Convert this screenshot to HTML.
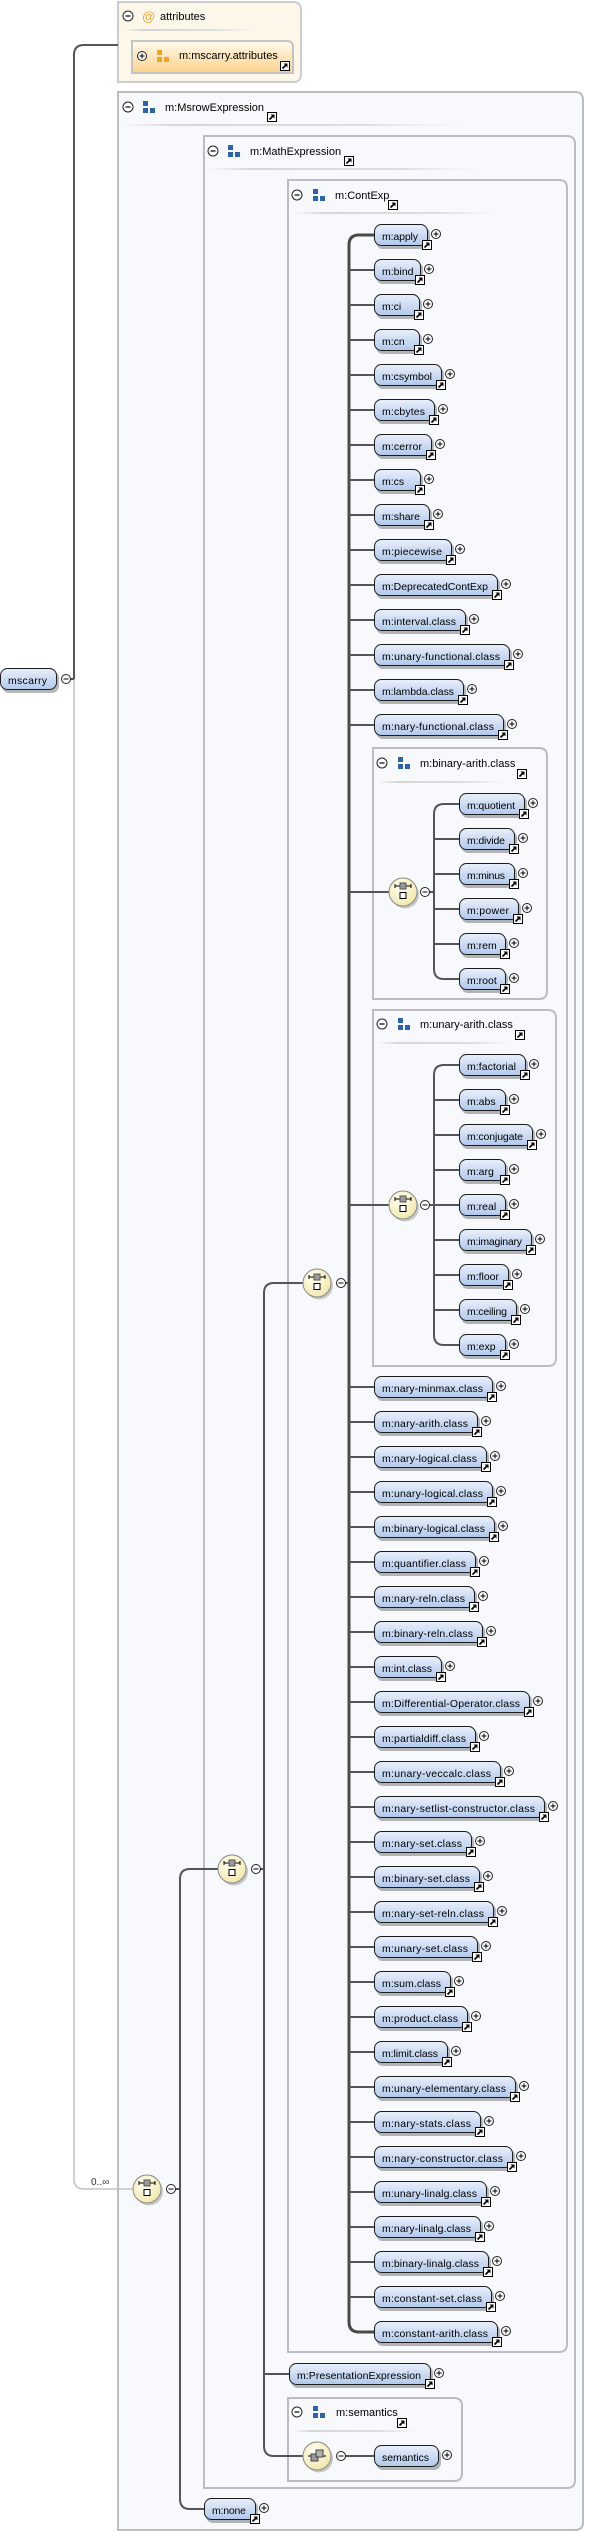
<!DOCTYPE html>
<html>
<head>
<meta charset="utf-8">
<style>
html,body{margin:0;padding:0;background:#fff;}
svg{display:block;}
text{font-family:"Liberation Sans",Arial,sans-serif;fill:#000;}
.t{font-size:10.5px;}
.h{font-size:11px;}
.s{fill:#000;opacity:.28;}
.n{fill:url(#ng);stroke:#1c1c1c;stroke-width:1;}
.bx{fill:#f7f9fd;stroke:#bdbdbd;stroke-width:2;}
.cn{fill:none;stroke:#555;stroke-width:2;}
</style>
</head>
<body>
<svg width="601" height="2532" viewBox="0 0 601 2532" xmlns="http://www.w3.org/2000/svg">
<defs>
<linearGradient id="ng" x1="0" y1="0" x2="0" y2="1"><stop offset="0" stop-color="#e9f0fb"/><stop offset="1" stop-color="#b1c8ec"/></linearGradient>
<linearGradient id="og" x1="0" y1="0" x2="0" y2="1"><stop offset="0" stop-color="#fff9ee"/><stop offset="1" stop-color="#fbd38a"/></linearGradient>
<linearGradient id="sg" x1="0" y1="0" x2="1" y2="0"><stop offset="0" stop-color="#d8d8d8" stop-opacity="0"/><stop offset=".15" stop-color="#d6d6d6"/><stop offset=".7" stop-color="#dedede"/><stop offset="1" stop-color="#e8e8e8" stop-opacity="0"/></linearGradient>
<radialGradient id="cg" cx=".4" cy=".35" r=".7"><stop offset="0" stop-color="#fffef2"/><stop offset="1" stop-color="#f1e7a8"/></radialGradient>
<g id="p"><circle r="4.5" fill="#fff" stroke="#222"/><path d="M-2.5 0H2.5M0 -2.5V2.5" stroke="#000" stroke-width="1"/></g>
<g id="m"><circle r="4.5" fill="#fff" stroke="#222"/><path d="M-2.5 0H2.5" stroke="#000" stroke-width="1"/></g>
<g id="hm"><circle r="5" fill="#fff" stroke="#222"/><path d="M-2.5 0H2.5" stroke="#000" stroke-width="1.2"/></g>
<g id="l"><rect x=".5" y=".5" width="9" height="9" fill="#fff" stroke="#000"/><path d="M2.5 7.5L6 4" stroke="#000" stroke-width="1.8"/><path d="M3.5 2.5H7.5V6.5Z" fill="#000"/></g>
<g id="gi" fill="#2b63ad"><rect width="5" height="5"/><rect y="7" width="5" height="5"/><rect x="7" y="7" width="5" height="5"/></g>
<g id="go" fill="#f0a52a"><rect width="5" height="5"/><rect y="7" width="5" height="5"/><rect x="7" y="7" width="5" height="5"/></g>
<g id="co"><circle cx="2" cy="2.5" r="14" fill="#000" opacity=".2"/><circle r="14" fill="url(#cg)" stroke="#8a8a8a"/><path d="M-8 -6H8M-8 -8V-4M8 -8V-4" stroke="#000" stroke-width="1"/><rect x="-3" y="-9" width="6" height="6" fill="#9a9a9a" stroke="#555"/><rect x="-3" y="0.5" width="6" height="6" fill="#fff" stroke="#000"/></g>
<g id="ca"><circle cx="2" cy="2.5" r="14" fill="#000" opacity=".2"/><circle r="14" fill="url(#cg)" stroke="#8a8a8a"/><path d="M-9 0H9" stroke="#000"/><rect x="-6" y="-2" width="7" height="7" fill="#9a9a9a" stroke="#444"/><rect x="-1" y="-6" width="7" height="7" fill="#b0b0b0" stroke="#444"/></g>
</defs>

<!-- attributes box -->
<path d="M118 2H293Q301 2 301 10V74Q301 82 293 82H118Z" fill="#fdf7ea" stroke="#cdcdcd" stroke-width="2"/>
<use href="#hm" x="128" y="16"/>
<text x="142" y="21" style="font-size:13px;fill:#f0a52a">@</text>
<text class="h" x="160" y="20">attributes</text>
<rect x="123" y="29" width="134" height="2" fill="url(#sg)"/>
<path d="M132 41H287Q293 41 293 47V73H132Z" fill="url(#og)" stroke="#c4c4c4" stroke-width="2"/>
<use href="#p" x="142" y="56"/>
<use href="#go" x="157" y="50"/>
<text class="h" x="179" y="59">m:mscarry.attributes</text>
<use href="#l" x="280" y="61"/>

<!-- group boxes -->
<path class="bx" d="M118 92H575Q583 92 583 100V2522Q583 2530 575 2530H118Z"/>
<use href="#hm" x="128" y="107"/><use href="#gi" x="143" y="101"/>
<text class="h" x="165" y="111">m:MsrowExpression</text><use href="#l" x="267" y="112"/>
<rect x="123" y="124" width="345" height="2" fill="url(#sg)"/>

<path class="bx" d="M204 136H567Q575 136 575 144V2480Q575 2488 567 2488H204Z"/>
<use href="#hm" x="213" y="151"/><use href="#gi" x="228" y="145"/>
<text class="h" x="250" y="155">m:MathExpression</text><use href="#l" x="344" y="156"/>
<rect x="209" y="168" width="275" height="2" fill="url(#sg)"/>

<path class="bx" d="M288 180H559Q567 180 567 188V2344Q567 2352 559 2352H288Z"/>
<use href="#hm" x="297" y="195"/><use href="#gi" x="313" y="189"/>
<text class="h" x="335" y="199">m:ContExp</text><use href="#l" x="388" y="200"/>
<rect x="293" y="212" width="207" height="2" fill="url(#sg)"/>

<path class="bx" d="M373 748H539Q547 748 547 756V991Q547 999 539 999H373Z"/>
<use href="#hm" x="382" y="763"/><use href="#gi" x="398" y="757"/>
<text class="h" x="420" y="767">m:binary-arith.class</text><use href="#l" x="517" y="769"/>
<rect x="378" y="781" width="129" height="2" fill="url(#sg)"/>

<path class="bx" d="M373 1010H548Q556 1010 556 1018V1358Q556 1366 548 1366H373Z"/>
<use href="#hm" x="382" y="1024"/><use href="#gi" x="398" y="1018"/>
<text class="h" x="420" y="1028">m:unary-arith.class</text><use href="#l" x="515" y="1030"/>
<rect x="378" y="1042" width="135" height="2" fill="url(#sg)"/>

<path class="bx" d="M288 2398H454Q462 2398 462 2406V2473Q462 2481 454 2481H288Z"/>
<use href="#hm" x="297" y="2412"/><use href="#gi" x="313" y="2406"/>
<text class="h" x="336" y="2416">m:semantics</text><use href="#l" x="397" y="2418"/>
<rect x="293" y="2430" width="126" height="2" fill="url(#sg)"/>

<!-- connectors -->
<path d="M74 679V2179Q74 2189 84 2189H133" fill="none" stroke="#c2c2c2" stroke-width="1.5"/>
<text x="91" y="2185" style="font-size:10px;fill:#333">0..∞</text>
<path class="cn" d="M70 679H74M74 679V55Q74 45 84 45H118"/>
<path class="cn" d="M218 1869H190Q180 1869 180 1879V2499Q180 2509 190 2509H204M175 2189H180"/>
<path class="cn" d="M303 1283H274Q264 1283 264 1293V2446Q264 2456 274 2456H303M264 2374H289M260 1869H264"/>
<path class="cn" d="M345 2456H374"/>
<path d="M374 235H359Q349 235 349 245V2322Q349 2332 359 2332H374" fill="none" stroke="#4a4a4a" stroke-width="3"/>
<path class="cn" d="M345 1283H349M349 270H374M349 305H374M349 340H374M349 375H374M349 410H374M349 445H374M349 480H374M349 515H374M349 550H374M349 585H374M349 620H374M349 655H374M349 690H374M349 725H374M349 892H389M349 1205H389M349 1387H374M349 1422H374M349 1457H374M349 1492H374M349 1527H374M349 1562H374M349 1597H374M349 1632H374M349 1667H374M349 1702H374M349 1737H374M349 1772H374M349 1807H374M349 1842H374M349 1877H374M349 1912H374M349 1947H374M349 1982H374M349 2017H374M349 2052H374M349 2087H374M349 2122H374M349 2157H374M349 2192H374M349 2227H374M349 2262H374M349 2297H374"/>
<path class="cn" d="M459 804H444Q434 804 434 814V969Q434 979 444 979H459M434 839H459M434 874H459M434 909H459M434 944H459M429 892H434"/>
<path class="cn" d="M459 1065H444Q434 1065 434 1075V1335Q434 1345 444 1345H459M434 1100H459M434 1135H459M434 1170H459M434 1205H459M434 1240H459M434 1275H459M434 1310H459M429 1205H434"/>

<!-- root element -->
<g transform="translate(0,668)"><rect x="2" y="3" width="57" height="22" rx="7" class="s"/><rect x=".5" y=".5" width="56" height="21" rx="7" class="n"/><text class="t" x="8" y="16" textLength="39">mscarry</text></g>
<use href="#m" x="66" y="679"/>

<!-- compositors -->
<use href="#co" x="147" y="2189"/><use href="#m" x="171" y="2189"/>
<use href="#co" x="232" y="1869"/><use href="#m" x="256" y="1869"/>
<use href="#co" x="317" y="1283"/><use href="#m" x="341" y="1283"/>
<use href="#co" x="403" y="892"/><use href="#m" x="425" y="892"/>
<use href="#co" x="403" y="1205"/><use href="#m" x="425" y="1205"/>
<use href="#ca" x="317" y="2456"/><use href="#m" x="341" y="2456"/>

<!-- ContExp children -->
<g transform="translate(374,224)"><rect x="2" y="3" width="54" height="22" rx="7" class="s"/><rect x=".5" y=".5" width="53" height="21" rx="7" class="n"/><text class="t" x="8" y="16" textLength="36">m:apply</text><use href="#p" x="62" y="10"/><use href="#l" x="48" y="16"/></g>
<g transform="translate(374,259)"><rect x="2" y="3" width="47" height="22" rx="7" class="s"/><rect x=".5" y=".5" width="46" height="21" rx="7" class="n"/><text class="t" x="8" y="16">m:bind</text><use href="#p" x="55" y="10"/><use href="#l" x="41" y="16"/></g>
<g transform="translate(374,294)"><rect x="2" y="3" width="46" height="22" rx="7" class="s"/><rect x=".5" y=".5" width="45" height="21" rx="7" class="n"/><text class="t" x="8" y="16">m:ci</text><use href="#p" x="54" y="10"/><use href="#l" x="40" y="16"/></g>
<g transform="translate(374,329)"><rect x="2" y="3" width="46" height="22" rx="7" class="s"/><rect x=".5" y=".5" width="45" height="21" rx="7" class="n"/><text class="t" x="8" y="16">m:cn</text><use href="#p" x="54" y="10"/><use href="#l" x="40" y="16"/></g>
<g transform="translate(374,364)"><rect x="2" y="3" width="68" height="22" rx="7" class="s"/><rect x=".5" y=".5" width="67" height="21" rx="7" class="n"/><text class="t" x="8" y="16" textLength="50">m:csymbol</text><use href="#p" x="76" y="10"/><use href="#l" x="62" y="16"/></g>
<g transform="translate(374,399)"><rect x="2" y="3" width="61" height="22" rx="7" class="s"/><rect x=".5" y=".5" width="60" height="21" rx="7" class="n"/><text class="t" x="8" y="16" textLength="43">m:cbytes</text><use href="#p" x="69" y="10"/><use href="#l" x="55" y="16"/></g>
<g transform="translate(374,434)"><rect x="2" y="3" width="58" height="22" rx="7" class="s"/><rect x=".5" y=".5" width="57" height="21" rx="7" class="n"/><text class="t" x="8" y="16" textLength="40">m:cerror</text><use href="#p" x="66" y="10"/><use href="#l" x="52" y="16"/></g>
<g transform="translate(374,469)"><rect x="2" y="3" width="47" height="22" rx="7" class="s"/><rect x=".5" y=".5" width="46" height="21" rx="7" class="n"/><text class="t" x="8" y="16">m:cs</text><use href="#p" x="55" y="10"/><use href="#l" x="41" y="16"/></g>
<g transform="translate(374,504)"><rect x="2" y="3" width="56" height="22" rx="7" class="s"/><rect x=".5" y=".5" width="55" height="21" rx="7" class="n"/><text class="t" x="8" y="16" textLength="38">m:share</text><use href="#p" x="64" y="10"/><use href="#l" x="50" y="16"/></g>
<g transform="translate(374,539)"><rect x="2" y="3" width="78" height="22" rx="7" class="s"/><rect x=".5" y=".5" width="77" height="21" rx="7" class="n"/><text class="t" x="8" y="16" textLength="60">m:piecewise</text><use href="#p" x="86" y="10"/><use href="#l" x="72" y="16"/></g>
<g transform="translate(374,574)"><rect x="2" y="3" width="124" height="22" rx="7" class="s"/><rect x=".5" y=".5" width="123" height="21" rx="7" class="n"/><text class="t" x="8" y="16" textLength="106">m:DeprecatedContExp</text><use href="#p" x="132" y="10"/><use href="#l" x="118" y="16"/></g>
<g transform="translate(374,609)"><rect x="2" y="3" width="92" height="22" rx="7" class="s"/><rect x=".5" y=".5" width="91" height="21" rx="7" class="n"/><text class="t" x="8" y="16" textLength="74">m:interval.class</text><use href="#p" x="100" y="10"/><use href="#l" x="86" y="16"/></g>
<g transform="translate(374,644)"><rect x="2" y="3" width="136" height="22" rx="7" class="s"/><rect x=".5" y=".5" width="135" height="21" rx="7" class="n"/><text class="t" x="8" y="16" textLength="118">m:unary-functional.class</text><use href="#p" x="144" y="10"/><use href="#l" x="130" y="16"/></g>
<g transform="translate(374,679)"><rect x="2" y="3" width="90" height="22" rx="7" class="s"/><rect x=".5" y=".5" width="89" height="21" rx="7" class="n"/><text class="t" x="8" y="16" textLength="72">m:lambda.class</text><use href="#p" x="98" y="10"/><use href="#l" x="84" y="16"/></g>
<g transform="translate(374,714)"><rect x="2" y="3" width="130" height="22" rx="7" class="s"/><rect x=".5" y=".5" width="129" height="21" rx="7" class="n"/><text class="t" x="8" y="16" textLength="112">m:nary-functional.class</text><use href="#p" x="138" y="10"/><use href="#l" x="124" y="16"/></g>

<!-- binary-arith children -->
<g transform="translate(459,793)"><rect x="2" y="3" width="66" height="22" rx="7" class="s"/><rect x=".5" y=".5" width="65" height="21" rx="7" class="n"/><text class="t" x="8" y="16" textLength="48">m:quotient</text><use href="#p" x="74" y="10"/><use href="#l" x="60" y="16"/></g>
<g transform="translate(459,828)"><rect x="2" y="3" width="56" height="22" rx="7" class="s"/><rect x=".5" y=".5" width="55" height="21" rx="7" class="n"/><text class="t" x="8" y="16" textLength="38">m:divide</text><use href="#p" x="64" y="10"/><use href="#l" x="50" y="16"/></g>
<g transform="translate(459,863)"><rect x="2" y="3" width="56" height="22" rx="7" class="s"/><rect x=".5" y=".5" width="55" height="21" rx="7" class="n"/><text class="t" x="8" y="16" textLength="38">m:minus</text><use href="#p" x="64" y="10"/><use href="#l" x="50" y="16"/></g>
<g transform="translate(459,898)"><rect x="2" y="3" width="60" height="22" rx="7" class="s"/><rect x=".5" y=".5" width="59" height="21" rx="7" class="n"/><text class="t" x="8" y="16" textLength="42">m:power</text><use href="#p" x="68" y="10"/><use href="#l" x="54" y="16"/></g>
<g transform="translate(459,933)"><rect x="2" y="3" width="47" height="22" rx="7" class="s"/><rect x=".5" y=".5" width="46" height="21" rx="7" class="n"/><text class="t" x="8" y="16">m:rem</text><use href="#p" x="55" y="10"/><use href="#l" x="41" y="16"/></g>
<g transform="translate(459,968)"><rect x="2" y="3" width="47" height="22" rx="7" class="s"/><rect x=".5" y=".5" width="46" height="21" rx="7" class="n"/><text class="t" x="8" y="16">m:root</text><use href="#p" x="55" y="10"/><use href="#l" x="41" y="16"/></g>

<!-- unary-arith children -->
<g transform="translate(459,1054)"><rect x="2" y="3" width="67" height="22" rx="7" class="s"/><rect x=".5" y=".5" width="66" height="21" rx="7" class="n"/><text class="t" x="8" y="16" textLength="49">m:factorial</text><use href="#p" x="75" y="10"/><use href="#l" x="61" y="16"/></g>
<g transform="translate(459,1089)"><rect x="2" y="3" width="47" height="22" rx="7" class="s"/><rect x=".5" y=".5" width="46" height="21" rx="7" class="n"/><text class="t" x="8" y="16">m:abs</text><use href="#p" x="55" y="10"/><use href="#l" x="41" y="16"/></g>
<g transform="translate(459,1124)"><rect x="2" y="3" width="74" height="22" rx="7" class="s"/><rect x=".5" y=".5" width="73" height="21" rx="7" class="n"/><text class="t" x="8" y="16" textLength="56">m:conjugate</text><use href="#p" x="82" y="10"/><use href="#l" x="68" y="16"/></g>
<g transform="translate(459,1159)"><rect x="2" y="3" width="47" height="22" rx="7" class="s"/><rect x=".5" y=".5" width="46" height="21" rx="7" class="n"/><text class="t" x="8" y="16">m:arg</text><use href="#p" x="55" y="10"/><use href="#l" x="41" y="16"/></g>
<g transform="translate(459,1194)"><rect x="2" y="3" width="47" height="22" rx="7" class="s"/><rect x=".5" y=".5" width="46" height="21" rx="7" class="n"/><text class="t" x="8" y="16">m:real</text><use href="#p" x="55" y="10"/><use href="#l" x="41" y="16"/></g>
<g transform="translate(459,1229)"><rect x="2" y="3" width="73" height="22" rx="7" class="s"/><rect x=".5" y=".5" width="72" height="21" rx="7" class="n"/><text class="t" x="8" y="16" textLength="55">m:imaginary</text><use href="#p" x="81" y="10"/><use href="#l" x="67" y="16"/></g>
<g transform="translate(459,1264)"><rect x="2" y="3" width="50" height="22" rx="7" class="s"/><rect x=".5" y=".5" width="49" height="21" rx="7" class="n"/><text class="t" x="8" y="16" textLength="32">m:floor</text><use href="#p" x="58" y="10"/><use href="#l" x="44" y="16"/></g>
<g transform="translate(459,1299)"><rect x="2" y="3" width="58" height="22" rx="7" class="s"/><rect x=".5" y=".5" width="57" height="21" rx="7" class="n"/><text class="t" x="8" y="16" textLength="40">m:ceiling</text><use href="#p" x="66" y="10"/><use href="#l" x="52" y="16"/></g>
<g transform="translate(459,1334)"><rect x="2" y="3" width="47" height="22" rx="7" class="s"/><rect x=".5" y=".5" width="46" height="21" rx="7" class="n"/><text class="t" x="8" y="16">m:exp</text><use href="#p" x="55" y="10"/><use href="#l" x="41" y="16"/></g>

<!-- remaining ContExp children -->
<g transform="translate(374,1376)"><rect x="2" y="3" width="119" height="22" rx="7" class="s"/><rect x=".5" y=".5" width="118" height="21" rx="7" class="n"/><text class="t" x="8" y="16" textLength="101">m:nary-minmax.class</text><use href="#p" x="127" y="10"/><use href="#l" x="113" y="16"/></g>
<g transform="translate(374,1411)"><rect x="2" y="3" width="104" height="22" rx="7" class="s"/><rect x=".5" y=".5" width="103" height="21" rx="7" class="n"/><text class="t" x="8" y="16" textLength="86">m:nary-arith.class</text><use href="#p" x="112" y="10"/><use href="#l" x="98" y="16"/></g>
<g transform="translate(374,1446)"><rect x="2" y="3" width="113" height="22" rx="7" class="s"/><rect x=".5" y=".5" width="112" height="21" rx="7" class="n"/><text class="t" x="8" y="16" textLength="95">m:nary-logical.class</text><use href="#p" x="121" y="10"/><use href="#l" x="107" y="16"/></g>
<g transform="translate(374,1481)"><rect x="2" y="3" width="119" height="22" rx="7" class="s"/><rect x=".5" y=".5" width="118" height="21" rx="7" class="n"/><text class="t" x="8" y="16" textLength="101">m:unary-logical.class</text><use href="#p" x="127" y="10"/><use href="#l" x="113" y="16"/></g>
<g transform="translate(374,1516)"><rect x="2" y="3" width="121" height="22" rx="7" class="s"/><rect x=".5" y=".5" width="120" height="21" rx="7" class="n"/><text class="t" x="8" y="16" textLength="103">m:binary-logical.class</text><use href="#p" x="129" y="10"/><use href="#l" x="115" y="16"/></g>
<g transform="translate(374,1551)"><rect x="2" y="3" width="102" height="22" rx="7" class="s"/><rect x=".5" y=".5" width="101" height="21" rx="7" class="n"/><text class="t" x="8" y="16" textLength="84">m:quantifier.class</text><use href="#p" x="110" y="10"/><use href="#l" x="96" y="16"/></g>
<g transform="translate(374,1586)"><rect x="2" y="3" width="101" height="22" rx="7" class="s"/><rect x=".5" y=".5" width="100" height="21" rx="7" class="n"/><text class="t" x="8" y="16" textLength="83">m:nary-reln.class</text><use href="#p" x="109" y="10"/><use href="#l" x="95" y="16"/></g>
<g transform="translate(374,1621)"><rect x="2" y="3" width="109" height="22" rx="7" class="s"/><rect x=".5" y=".5" width="108" height="21" rx="7" class="n"/><text class="t" x="8" y="16" textLength="91">m:binary-reln.class</text><use href="#p" x="117" y="10"/><use href="#l" x="103" y="16"/></g>
<g transform="translate(374,1656)"><rect x="2" y="3" width="68" height="22" rx="7" class="s"/><rect x=".5" y=".5" width="67" height="21" rx="7" class="n"/><text class="t" x="8" y="16" textLength="50">m:int.class</text><use href="#p" x="76" y="10"/><use href="#l" x="62" y="16"/></g>
<g transform="translate(374,1691)"><rect x="2" y="3" width="156" height="22" rx="7" class="s"/><rect x=".5" y=".5" width="155" height="21" rx="7" class="n"/><text class="t" x="8" y="16" textLength="138">m:Differential-Operator.class</text><use href="#p" x="164" y="10"/><use href="#l" x="150" y="16"/></g>
<g transform="translate(374,1726)"><rect x="2" y="3" width="102" height="22" rx="7" class="s"/><rect x=".5" y=".5" width="101" height="21" rx="7" class="n"/><text class="t" x="8" y="16" textLength="84">m:partialdiff.class</text><use href="#p" x="110" y="10"/><use href="#l" x="96" y="16"/></g>
<g transform="translate(374,1761)"><rect x="2" y="3" width="127" height="22" rx="7" class="s"/><rect x=".5" y=".5" width="126" height="21" rx="7" class="n"/><text class="t" x="8" y="16" textLength="109">m:unary-veccalc.class</text><use href="#p" x="135" y="10"/><use href="#l" x="121" y="16"/></g>
<g transform="translate(374,1796)"><rect x="2" y="3" width="171" height="22" rx="7" class="s"/><rect x=".5" y=".5" width="170" height="21" rx="7" class="n"/><text class="t" x="8" y="16" textLength="153">m:nary-setlist-constructor.class</text><use href="#p" x="179" y="10"/><use href="#l" x="165" y="16"/></g>
<g transform="translate(374,1831)"><rect x="2" y="3" width="98" height="22" rx="7" class="s"/><rect x=".5" y=".5" width="97" height="21" rx="7" class="n"/><text class="t" x="8" y="16" textLength="80">m:nary-set.class</text><use href="#p" x="106" y="10"/><use href="#l" x="92" y="16"/></g>
<g transform="translate(374,1866)"><rect x="2" y="3" width="106" height="22" rx="7" class="s"/><rect x=".5" y=".5" width="105" height="21" rx="7" class="n"/><text class="t" x="8" y="16" textLength="88">m:binary-set.class</text><use href="#p" x="114" y="10"/><use href="#l" x="100" y="16"/></g>
<g transform="translate(374,1901)"><rect x="2" y="3" width="120" height="22" rx="7" class="s"/><rect x=".5" y=".5" width="119" height="21" rx="7" class="n"/><text class="t" x="8" y="16" textLength="102">m:nary-set-reln.class</text><use href="#p" x="128" y="10"/><use href="#l" x="114" y="16"/></g>
<g transform="translate(374,1936)"><rect x="2" y="3" width="104" height="22" rx="7" class="s"/><rect x=".5" y=".5" width="103" height="21" rx="7" class="n"/><text class="t" x="8" y="16" textLength="86">m:unary-set.class</text><use href="#p" x="112" y="10"/><use href="#l" x="98" y="16"/></g>
<g transform="translate(374,1971)"><rect x="2" y="3" width="77" height="22" rx="7" class="s"/><rect x=".5" y=".5" width="76" height="21" rx="7" class="n"/><text class="t" x="8" y="16" textLength="59">m:sum.class</text><use href="#p" x="85" y="10"/><use href="#l" x="71" y="16"/></g>
<g transform="translate(374,2006)"><rect x="2" y="3" width="94" height="22" rx="7" class="s"/><rect x=".5" y=".5" width="93" height="21" rx="7" class="n"/><text class="t" x="8" y="16" textLength="76">m:product.class</text><use href="#p" x="102" y="10"/><use href="#l" x="88" y="16"/></g>
<g transform="translate(374,2041)"><rect x="2" y="3" width="74" height="22" rx="7" class="s"/><rect x=".5" y=".5" width="73" height="21" rx="7" class="n"/><text class="t" x="8" y="16" textLength="56">m:limit.class</text><use href="#p" x="82" y="10"/><use href="#l" x="68" y="16"/></g>
<g transform="translate(374,2076)"><rect x="2" y="3" width="142" height="22" rx="7" class="s"/><rect x=".5" y=".5" width="141" height="21" rx="7" class="n"/><text class="t" x="8" y="16" textLength="124">m:unary-elementary.class</text><use href="#p" x="150" y="10"/><use href="#l" x="136" y="16"/></g>
<g transform="translate(374,2111)"><rect x="2" y="3" width="107" height="22" rx="7" class="s"/><rect x=".5" y=".5" width="106" height="21" rx="7" class="n"/><text class="t" x="8" y="16" textLength="89">m:nary-stats.class</text><use href="#p" x="115" y="10"/><use href="#l" x="101" y="16"/></g>
<g transform="translate(374,2146)"><rect x="2" y="3" width="139" height="22" rx="7" class="s"/><rect x=".5" y=".5" width="138" height="21" rx="7" class="n"/><text class="t" x="8" y="16" textLength="121">m:nary-constructor.class</text><use href="#p" x="147" y="10"/><use href="#l" x="133" y="16"/></g>
<g transform="translate(374,2181)"><rect x="2" y="3" width="113" height="22" rx="7" class="s"/><rect x=".5" y=".5" width="112" height="21" rx="7" class="n"/><text class="t" x="8" y="16" textLength="95">m:unary-linalg.class</text><use href="#p" x="121" y="10"/><use href="#l" x="107" y="16"/></g>
<g transform="translate(374,2216)"><rect x="2" y="3" width="107" height="22" rx="7" class="s"/><rect x=".5" y=".5" width="106" height="21" rx="7" class="n"/><text class="t" x="8" y="16" textLength="89">m:nary-linalg.class</text><use href="#p" x="115" y="10"/><use href="#l" x="101" y="16"/></g>
<g transform="translate(374,2251)"><rect x="2" y="3" width="115" height="22" rx="7" class="s"/><rect x=".5" y=".5" width="114" height="21" rx="7" class="n"/><text class="t" x="8" y="16" textLength="97">m:binary-linalg.class</text><use href="#p" x="123" y="10"/><use href="#l" x="109" y="16"/></g>
<g transform="translate(374,2286)"><rect x="2" y="3" width="118" height="22" rx="7" class="s"/><rect x=".5" y=".5" width="117" height="21" rx="7" class="n"/><text class="t" x="8" y="16" textLength="100">m:constant-set.class</text><use href="#p" x="126" y="10"/><use href="#l" x="112" y="16"/></g>
<g transform="translate(374,2321)"><rect x="2" y="3" width="124" height="22" rx="7" class="s"/><rect x=".5" y=".5" width="123" height="21" rx="7" class="n"/><text class="t" x="8" y="16" textLength="106">m:constant-arith.class</text><use href="#p" x="132" y="10"/><use href="#l" x="118" y="16"/></g>

<!-- PresentationExpression, semantics, none -->
<g transform="translate(289,2363)"><rect x="2" y="3" width="142" height="22" rx="7" class="s"/><rect x=".5" y=".5" width="141" height="21" rx="7" class="n"/><text class="t" x="8" y="16" textLength="124">m:PresentationExpression</text><use href="#p" x="150" y="10"/><use href="#l" x="136" y="16"/></g>
<g transform="translate(374,2445)"><rect x="2" y="3" width="65" height="22" rx="7" class="s"/><rect x=".5" y=".5" width="64" height="21" rx="7" class="n"/><text class="t" x="8" y="16" textLength="47">semantics</text><use href="#p" x="73" y="10"/></g>
<g transform="translate(204,2498)"><rect x="2" y="3" width="52" height="22" rx="7" class="s"/><rect x=".5" y=".5" width="51" height="21" rx="7" class="n"/><text class="t" x="8" y="16" textLength="34">m:none</text><use href="#p" x="60" y="10"/><use href="#l" x="46" y="16"/></g>
</svg>
</body>
</html>
